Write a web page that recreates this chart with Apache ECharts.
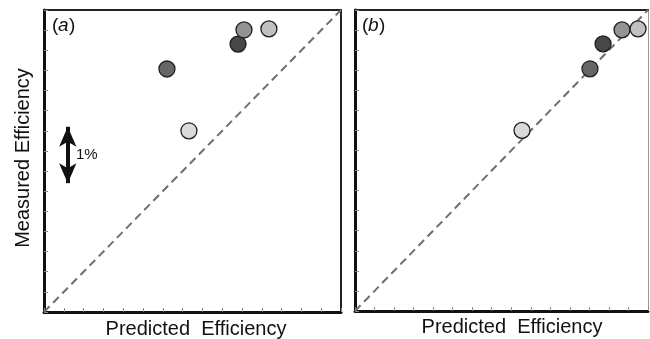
<!DOCTYPE html>
<html>
<head>
<meta charset="utf-8">
<script src="https://cdn.jsdelivr.net/npm/echarts@6/dist/echarts.min.js"></script>
<style>html,body{margin:0;padding:0;background:#fff;}#c{width:650px;height:339px;}</style>
</head>
<body>
<div id="c"></div>
<script>
// Data (arbitrary units: 1 tick = 1 unit)
const pointNames = ['p1', 'p2', 'p3', 'p4', 'p5'];
const measured = [9.0, 12.07, 13.31, 14.01, 14.06];
const predictedA = [7.32, 6.21, 9.80, 10.10, 11.36];
const predictedB = [8.55, 12.03, 12.70, 13.67, 14.49];
const pointColors = ['#dadada', '#666666', '#474747', '#939393', '#c0c0c0'];
const parityLine = [[0, 0], [15, 15]];
const arrowY = [6.4, 9.2];
const arrowX = 1.2;

const chart = echarts.init(document.getElementById('c'), null, {renderer: 'canvas'});

function pts(xs) {
  return xs.map((x, i) => ({
    value: [x, measured[i]],
    itemStyle: {color: pointColors[i]}
  }));
}

function axisMain(gi, pos) {
  return {
    type: 'value', gridIndex: gi, min: 0, max: 15, interval: 1, position: pos,
    axisLine: {show: true, onZero: false, lineStyle: {color: '#111', width: 3}},
    axisTick: {show: true, inside: true, length: 4, lineStyle: {color: '#888', width: 1}},
    axisLabel: {show: false}, splitLine: {show: false}
  };
}
function axisEdge(gi, pos, color, width) {
  return {
    type: 'value', gridIndex: gi, min: 0, max: 15, position: pos,
    axisLine: {show: true, onZero: false, lineStyle: {color: color, width: width}},
    axisTick: {show: false}, axisLabel: {show: false}, splitLine: {show: false}
  };
}

const F = '"Liberation Sans", Arial, sans-serif';

const option = {
  animation: false,
  backgroundColor: '#fff',
  grid: [
    {left: 44, top: 10, width: 297, height: 302},
    {left: 355, top: 10, width: 293, height: 301}
  ],
  xAxis: [axisMain(0, 'bottom'), axisEdge(0, 'top', '#222', 2), axisMain(1, 'bottom'), axisEdge(1, 'top', '#222', 2)],
  yAxis: [axisMain(0, 'left'), axisEdge(0, 'right', '#222', 2), axisMain(1, 'left'), axisEdge(1, 'right', '#999', 1)],
  series: [
    {type: 'line', xAxisIndex: 0, yAxisIndex: 0, data: parityLine, symbol: 'none',
     lineStyle: {color: '#6e6e6e', width: 2, type: [8, 5]}, z: 1,
     markLine: {silent: true, symbol: ['arrow', 'arrow'], symbolSize: [13, 20],
       lineStyle: {color: '#111', width: 4, type: 'solid'}, label: {show: false},
       data: [[{coord: [arrowX, arrowY[0]]}, {coord: [arrowX, arrowY[1]]}]]}},
    {type: 'line', xAxisIndex: 2, yAxisIndex: 2, data: parityLine, symbol: 'none',
     lineStyle: {color: '#6e6e6e', width: 2, type: [8, 5]}, z: 1},
    {type: 'scatter', xAxisIndex: 0, yAxisIndex: 0, data: pts(predictedA), symbolSize: 16,
     itemStyle: {borderColor: '#1e1e1e', borderWidth: 1.3, opacity: 1}, z: 3},
    {type: 'scatter', xAxisIndex: 2, yAxisIndex: 2, data: pts(predictedB), symbolSize: 16,
     itemStyle: {borderColor: '#1e1e1e', borderWidth: 1.3, opacity: 1}, z: 3}
  ],
  graphic: [
    {type: 'text', left: 52, top: 16, style: {text: '(', font: '19px ' + F, fill: '#111'}},
    {type: 'text', left: 58, top: 16, style: {text: 'a', font: 'italic 19px ' + F, fill: '#111'}},
    {type: 'text', left: 69, top: 16, style: {text: ')', font: '19px ' + F, fill: '#111'}},
    {type: 'text', left: 362, top: 16, style: {text: '(', font: '19px ' + F, fill: '#111'}},
    {type: 'text', left: 368, top: 16, style: {text: 'b', font: 'italic 19px ' + F, fill: '#111'}},
    {type: 'text', left: 379, top: 16, style: {text: ')', font: '19px ' + F, fill: '#111'}},
    {type: 'text', left: 76, top: 147, style: {text: '1%', font: '15px ' + F, fill: '#111'}},
    {type: 'text', x: 196, y: 329, style: {text: 'Predicted  Efficiency', font: '20px ' + F, fill: '#111', align: 'center', verticalAlign: 'middle'}},
    {type: 'text', x: 512, y: 327, style: {text: 'Predicted  Efficiency', font: '20px ' + F, fill: '#111', align: 'center', verticalAlign: 'middle'}},
    {type: 'text', x: 23, y: 158, rotation: Math.PI / 2, style: {text: 'Measured Efficiency', font: '20px ' + F, fill: '#111', align: 'center', verticalAlign: 'middle'}}
  ]
};
chart.setOption(option);
</script>
</body>
</html>
